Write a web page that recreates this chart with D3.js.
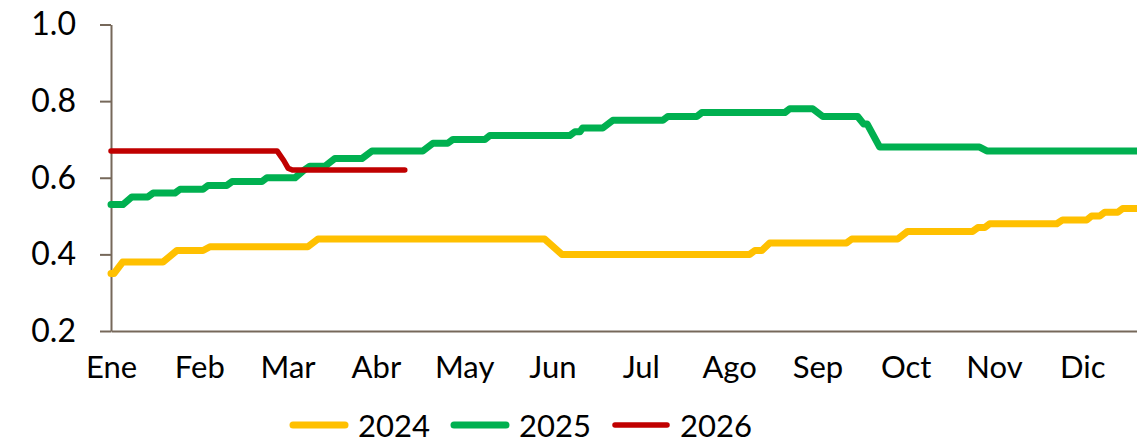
<!DOCTYPE html>
<html>
<head>
<meta charset="utf-8">
<script src="https://cdn.jsdelivr.net/npm/d3@7"></script>
<style>
  body { margin: 0; background: #fff; }
  svg { display: block; font-family: Lato, "Open Sans", sans-serif; }
</style>
</head>
<body>
<div id="app"></div>
<script>
const months = ["Ene", "Feb", "Mar", "Abr", "May", "Jun", "Jul", "Ago", "Sep", "Oct", "Nov", "Dic"];
const yTicks = [0.2, 0.4, 0.6, 0.8, 1.0];
const seriesNames = ["2024", "2025", "2026"];
const seriesColors = ["#FFC000", "#00B050", "#C00000"];

// [day of year, value]
const data2024 = [
  [0, 0.35], [1, 0.35], [4, 0.38], [17.9, 0.38], [22.7, 0.41], [31.7, 0.41], [34.1, 0.42],
  [67.8, 0.42], [71.3, 0.44], [149.4, 0.44], [155.3, 0.40], [220, 0.40], [221.8, 0.41],
  [224.2, 0.41], [226.9, 0.43], [253.4, 0.43], [255.2, 0.44], [271, 0.44], [274.4, 0.46],
  [296.8, 0.46], [298.6, 0.47], [301, 0.47], [302.7, 0.48], [325.8, 0.48], [327.8, 0.49],
  [336.1, 0.49], [337.8, 0.50], [340.6, 0.50], [342.3, 0.51], [346.8, 0.51], [348.5, 0.52],
  [360, 0.52]
];
const data2025 = [
  [0, 0.53], [4.1, 0.53], [7.2, 0.55], [12.7, 0.55], [14.5, 0.56], [22, 0.56], [23.8, 0.57],
  [31.7, 0.57], [33.4, 0.58], [39.9, 0.58], [41.7, 0.59], [52, 0.59], [53.7, 0.60],
  [63.4, 0.60], [66.5, 0.62], [68.5, 0.63], [73.7, 0.63], [77.1, 0.65], [86.4, 0.65],
  [89.9, 0.67], [107.4, 0.67], [110.9, 0.69], [116, 0.69], [117.8, 0.70], [128.8, 0.70],
  [130.5, 0.71], [158, 0.71], [159.8, 0.72], [161.5, 0.72], [162.5, 0.73], [169.4, 0.73],
  [172.9, 0.75], [190.1, 0.75], [191.8, 0.76], [201.8, 0.76], [203.5, 0.77], [232.1, 0.77],
  [233.8, 0.78], [241.7, 0.78], [245.2, 0.76], [257.2, 0.76], [259.3, 0.74], [260.5, 0.74],
  [264.8, 0.68], [299.2, 0.68], [301.7, 0.67], [360, 0.67]
];
const data2026 = [
  [0, 0.67], [57.2, 0.67], [59.5, 0.645], [61, 0.625], [62.5, 0.62], [101.2, 0.62]
];
const allSeries = [data2024, data2025, data2026];
const strokeWidths = [7, 7, 5.5];

const width = 1137, height = 440;
const plotLeft = 111, plotTop = 24.5, plotBottom = 331;

const svg = d3.select("#app")
  .append("svg")
  .attr("width", width)
  .attr("height", height);

svg.append("rect").attr("width", width).attr("height", height).attr("fill", "#fff");

const x = d3.scaleLinear().domain([0, 365]).range([plotLeft, plotLeft + 365 * 2.903]);
const y = d3.scaleLinear().domain([0.2, 1.0]).range([plotBottom, plotTop]);

const axisColor = "#76685a";

const yAxis = svg.append("g")
  .attr("transform", `translate(${plotLeft},0)`)
  .call(d3.axisLeft(y).tickValues(yTicks).tickFormat(d3.format(".1f")).tickSize(11).tickSizeOuter(0).tickPadding(24));

const xAxis = svg.append("g")
  .attr("transform", `translate(0,${plotBottom})`)
  .call(d3.axisBottom(x)
    .tickValues(months.map((m, i) => i * 365 / 12))
    .tickFormat((d, i) => months[i])
    .tickSize(0).tickSizeOuter(0).tickPadding(25));

[yAxis, xAxis].forEach(g => {
  g.selectAll("path, line").attr("stroke", axisColor).attr("stroke-width", 2);
  g.selectAll("text").attr("fill", "#000").attr("font-family", "Lato, sans-serif");
});
yAxis.selectAll("text").attr("font-size", 32);
xAxis.selectAll("text").attr("font-size", 31);

const line = d3.line()
  .x(d => x(d[0]))
  .y(d => y(d[1]));

allSeries.forEach((s, i) => {
  svg.append("path")
    .datum(s)
    .attr("d", line)
    .attr("fill", "none")
    .attr("stroke", seriesColors[i])
    .attr("stroke-width", strokeWidths[i])
    .attr("stroke-linejoin", "round")
    .attr("stroke-linecap", "round");
});

// legend
const legendX = [293, 454, 615];
const legend = svg.append("g").attr("transform", "translate(0,425)");
seriesNames.forEach((name, i) => {
  legend.append("line")
    .attr("x1", legendX[i])
    .attr("x2", legendX[i] + 52)
    .attr("stroke", seriesColors[i])
    .attr("stroke-width", strokeWidths[i])
    .attr("stroke-linecap", "round");
  legend.append("text")
    .attr("x", legendX[i] + 65)
    .attr("y", 12)
    .attr("font-size", 31)
    .attr("fill", "#000")
    .text(name);
});
</script>
</body>
</html>
